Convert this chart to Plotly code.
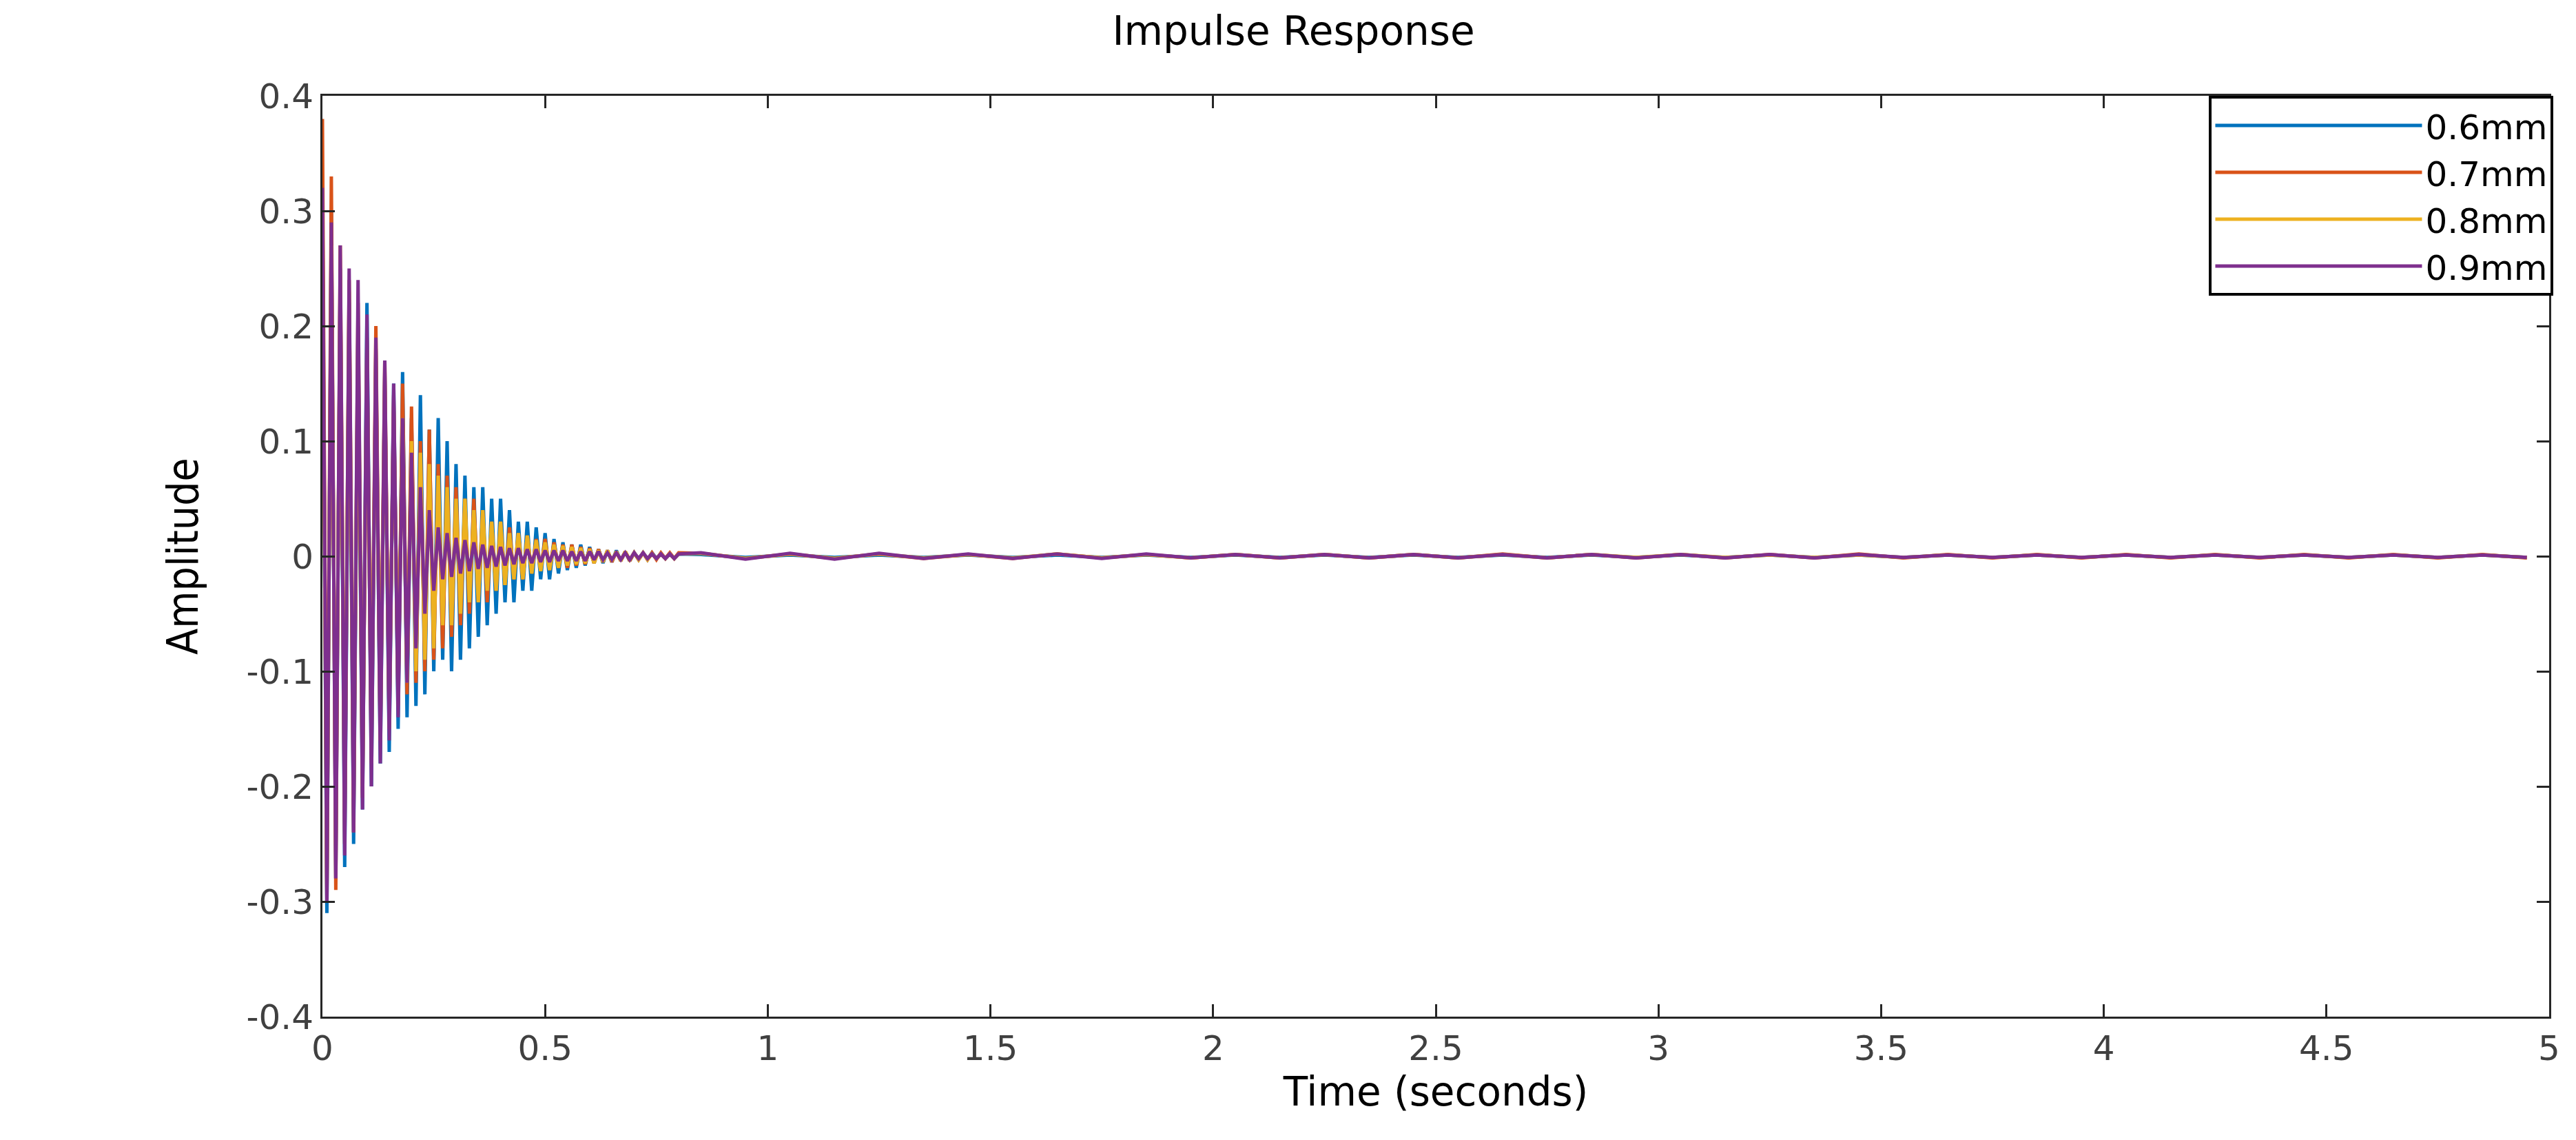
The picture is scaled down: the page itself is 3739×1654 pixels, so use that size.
import plotly.graph_objects as go

t_early = [round(i * 0.01, 2) for i in range(81)]
t_tail = [round(0.85 + i * 0.1, 2) for i in range(42)]

blue_early = [0.30,-0.31,0.30,-0.28,0.25,-0.27,0.22,-0.25,0.20,-0.22,0.22,-0.20,0.18,-0.18,0.16,-0.17,0.15,-0.15,0.16,-0.14,
              0.12,-0.13,0.14,-0.12,0.11,-0.10,0.12,-0.09,0.10,-0.10,0.08,-0.09,0.07,-0.08,0.06,-0.07,0.06,-0.06,0.05,-0.05,
              0.05,-0.04,0.04,-0.04,0.03,-0.03,0.03,-0.03,0.025,-0.02,0.02,-0.02,0.015,-0.015,0.012,-0.012,0.01,-0.01,0.01,-0.008,
              0.008,-0.006,0.006,-0.006,0.005,-0.005,0.005,-0.004,0.004,-0.004,0.003,-0.003,0.003,-0.003,0.003,-0.002,0.002,-0.002,0.002,-0.002,0.002]
red_early = [0.38,-0.30,0.33,-0.29,0.27,-0.25,0.24,-0.24,0.22,-0.21,0.19,-0.18,0.20,-0.16,0.17,-0.15,0.14,-0.13,0.15,-0.12,
             0.13,-0.11,0.10,-0.10,0.11,-0.09,0.08,-0.08,0.07,-0.07,0.06,-0.06,0.05,-0.05,0.05,-0.04,0.04,-0.04,0.03,-0.03,
             0.03,-0.025,0.025,-0.02,0.02,-0.02,0.018,-0.015,0.015,-0.012,0.015,-0.012,0.012,-0.01,0.01,-0.01,0.01,-0.008,0.008,-0.007,
             0.007,-0.006,0.006,-0.005,0.005,-0.005,0.004,-0.004,0.004,-0.004,0.003,-0.003,0.003,-0.003,0.003,-0.003,0.003,-0.002,0.003,-0.002,0.003]
yellow_early = [0.28,-0.29,0.27,-0.25,0.24,-0.22,0.23,-0.21,0.20,-0.20,0.18,-0.17,0.17,-0.16,0.15,-0.14,0.13,-0.12,0.12,-0.11,
                0.10,-0.10,0.09,-0.09,0.08,-0.08,0.07,-0.06,0.06,-0.06,0.05,-0.05,0.05,-0.04,0.04,-0.04,0.04,-0.03,0.03,-0.03,
                0.03,-0.025,0.02,-0.02,0.02,-0.02,0.018,-0.015,0.014,-0.013,0.012,-0.012,0.01,-0.01,0.009,-0.008,0.008,-0.007,0.007,-0.006,
                0.006,-0.006,0.005,-0.005,0.005,-0.004,0.004,-0.004,0.004,-0.003,0.003,-0.003,0.003,-0.003,0.002,-0.002,0.002,-0.002,0.002,-0.002,0.002]
purple_early = [0.32,-0.30,0.29,-0.28,0.27,-0.26,0.25,-0.24,0.24,-0.22,0.21,-0.20,0.19,-0.18,0.17,-0.16,0.15,-0.14,0.12,-0.11,
                0.09,-0.08,0.06,-0.05,0.04,-0.03,0.025,-0.02,0.02,-0.018,0.016,-0.015,0.014,-0.013,0.012,-0.011,0.01,-0.01,0.009,-0.009,
                0.008,-0.008,0.007,-0.007,0.007,-0.006,0.006,-0.006,0.006,-0.005,0.005,-0.005,0.005,-0.004,0.005,-0.004,0.004,-0.004,0.004,-0.004,
                0.004,-0.003,0.004,-0.003,0.003,-0.003,0.003,-0.003,0.003,-0.003,0.003,-0.002,0.003,-0.002,0.002,-0.002,0.002,-0.002,0.002,-0.002,0.002]

blue_tail = [0.0015,-0.001,0.001,-0.001,0.001,-0.001,0.001,-0.001,0.001,-0.001,0.001,-0.001,0.001,-0.001,0.001,-0.001,0.001,-0.001,0.001,-0.001,0.001,
             -0.001,0.001,-0.001,0.001,-0.001,0.001,-0.001,0.001,-0.001,0.001,-0.001,0.001,-0.001,0.001,-0.001,0.001,-0.001,0.001,-0.001,0.001,-0.001]
red_tail = [0.0025,-0.002,0.002,-0.002,0.002,-0.002,0.0015,-0.002,0.002,-0.0015,0.0015,-0.0015,0.0015,-0.0015,0.0015,-0.0015,0.0015,-0.0015,0.002,-0.0015,0.0015,
            -0.0015,0.0015,-0.0015,0.0015,-0.0015,0.002,-0.0015,0.0015,-0.0015,0.0015,-0.0015,0.0015,-0.0015,0.0015,-0.0015,0.0015,-0.0015,0.0015,-0.0015,0.0015,-0.0015]
yellow_tail = [0.0025,-0.002,0.002,-0.002,0.002,-0.0015,0.0015,-0.0015,0.002,-0.0015,0.0015,-0.0015,0.0015,-0.0015,0.0015,-0.0015,0.0015,-0.0015,0.0015,-0.0015,0.0015,
               -0.001,0.0015,-0.001,0.001,-0.001,0.001,-0.001,0.001,-0.001,0.001,-0.001,0.001,-0.001,0.001,-0.001,0.001,-0.001,0.001,-0.001,0.001,-0.001]
purple_tail = [0.003,-0.0025,0.0025,-0.0025,0.0025,-0.002,0.002,-0.002,0.002,-0.002,0.002,-0.0015,0.0015,-0.0015,0.0015,-0.0015,0.0015,-0.0015,0.0015,-0.0015,0.0015,
               -0.0015,0.0015,-0.0015,0.0015,-0.0015,0.0015,-0.001,0.001,-0.001,0.001,-0.001,0.001,-0.001,0.001,-0.001,0.001,-0.001,0.001,-0.001,0.001,-0.001]

names = ["0.6mm", "0.7mm", "0.8mm", "0.9mm"]
colors = ["#0072BD", "#D95319", "#EDB120", "#7E2F8E"]
series = [(blue_early, blue_tail), (red_early, red_tail), (yellow_early, yellow_tail), (purple_early, purple_tail)]

fig = go.Figure()
for (e, tl), n, c in zip(series, names, colors):
    fig.add_trace(go.Scatter(x=t_early + t_tail, y=e + tl, mode="lines", name=n,
                             line=dict(color=c, width=5)))

ax = dict(showgrid=False, zeroline=False, showline=True, linecolor="#262626", linewidth=3,
          mirror="ticks", ticks="inside", ticklen=18, tickwidth=3, tickcolor="#262626",
          tickfont=dict(family="DejaVu Sans", size=50, color="#404040"))
fig.update_xaxes(range=[0, 5], tickvals=[0,0.5,1,1.5,2,2.5,3,3.5,4,4.5,5],
                 ticktext=["0","0.5","1","1.5","2","2.5","3","3.5","4","4.5","5"],
                 title=dict(text="Time (seconds)", font=dict(family="DejaVu Sans", size=58, color="black"), standoff=15), **ax)
fig.update_yaxes(range=[-0.4, 0.4], tickvals=[-0.4,-0.3,-0.2,-0.1,0,0.1,0.2,0.3,0.4],
                 ticktext=["-0.4","-0.3","-0.2","-0.1","0","0.1","0.2","0.3","0.4"],
                 title=dict(text="Amplitude", font=dict(family="DejaVu Sans Condensed", size=62, color="black"), standoff=50), **ax)
fig.update_layout(
    width=3739, height=1654, plot_bgcolor="white", paper_bgcolor="white",
    margin=dict(l=460, r=47, t=131, b=187),
    title=dict(text="Impulse Response", x=0.5, xanchor="center", y=0.99, yanchor="top",
               font=dict(family="DejaVu Sans", size=58, color="black")),
    legend=dict(x=1.002, xanchor="right", y=1.0, yanchor="top", bgcolor="white", bordercolor="black",
                borderwidth=4, font=dict(family="DejaVu Sans", size=50, color="black"),
                itemwidth=300, tracegroupgap=0),
    showlegend=True,
)
fig.write_html("out.html")
